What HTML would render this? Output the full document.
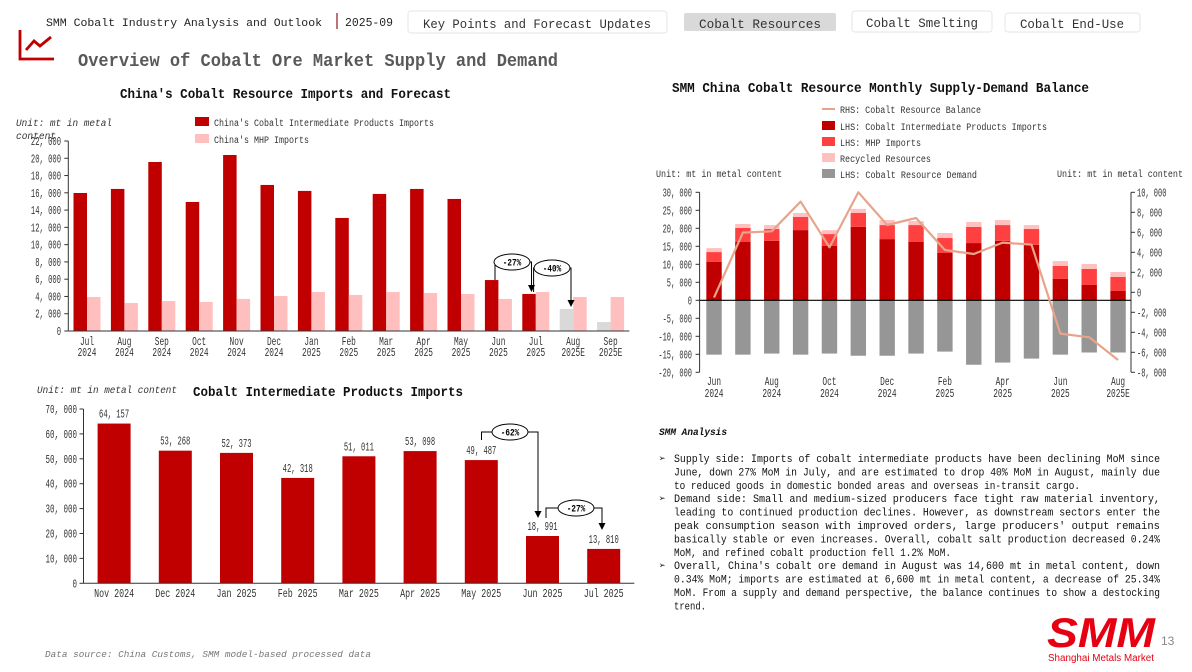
<!DOCTYPE html>
<html><head><meta charset="utf-8">
<style>
html,body{margin:0;padding:0;background:#fff;}
svg{display:block;font-family:"Liberation Mono","Noto Sans CJK SC",monospace;}
</style></head>
<body>
<svg id="s" width="1192" height="672" viewBox="0 0 1192 672" xmlns="http://www.w3.org/2000/svg">
<text x="46" y="26" font-size="11" fill="#222" textLength="276" lengthAdjust="spacingAndGlyphs">SMM Cobalt Industry Analysis and Outlook</text>
<line x1="337" y1="13" x2="337" y2="29" stroke="#8b1a1a" stroke-width="1.2"/>
<text x="345" y="26" font-size="12" fill="#222" textLength="48" lengthAdjust="spacingAndGlyphs">2025-09</text>
<g><rect x="408" y="11" width="259" height="22" rx="3" fill="#fff" stroke="#e6e6e6"/><text x="537" y="28" font-size="13" fill="#333" text-anchor="middle" textLength="228" lengthAdjust="spacingAndGlyphs">Key Points and Forecast Updates</text></g>
<g><rect x="684" y="13" width="152" height="18" rx="2" fill="#d9d9d9"/><text x="760" y="28" font-size="13" fill="#333" text-anchor="middle" textLength="122" lengthAdjust="spacingAndGlyphs">Cobalt Resources</text></g>
<g><rect x="852" y="11" width="140" height="21" rx="3" fill="#fff" stroke="#e6e6e6"/><text x="922" y="27" font-size="13" fill="#333" text-anchor="middle" textLength="112" lengthAdjust="spacingAndGlyphs">Cobalt Smelting</text></g>
<g><rect x="1005" y="13" width="135" height="19" rx="3" fill="#fff" stroke="#e6e6e6"/><text x="1072" y="28" font-size="13" fill="#333" text-anchor="middle" textLength="104" lengthAdjust="spacingAndGlyphs">Cobalt End-Use</text></g>
<g fill="none" stroke="#c00000" stroke-width="2.8">
<polyline points="20,30 20,59 54,59"/><polyline points="26,50 34,41 40,46 51,37"/></g>
<text x="78" y="66" font-size="18" font-weight="bold" fill="#595959" textLength="480" lengthAdjust="spacingAndGlyphs">Overview of Cobalt Ore Market Supply and Demand</text>

<text x="120" y="98" font-size="14" font-weight="bold" fill="#111" textLength="331" lengthAdjust="spacingAndGlyphs">China's Cobalt Resource Imports and Forecast</text>
<text x="16" y="126" font-size="10" font-style="italic" fill="#333" textLength="96" lengthAdjust="spacingAndGlyphs">Unit: mt in metal</text>
<text x="16" y="139" font-size="10" font-style="italic" fill="#333" textLength="40" lengthAdjust="spacingAndGlyphs">content</text>
<g><rect x="195" y="117" width="14" height="9" fill="#c00000"/><text x="214" y="126" font-size="10" fill="#333" textLength="220" lengthAdjust="spacingAndGlyphs">China's Cobalt Intermediate Products Imports</text></g>
<g><rect x="195" y="134" width="14" height="9" fill="#ffbfbf"/><text x="214" y="143" font-size="10" fill="#333" textLength="95" lengthAdjust="spacingAndGlyphs">China's MHP Imports</text></g>
<g id="c1"></g>

<text x="672" y="92" font-size="14" font-weight="bold" fill="#111" textLength="417" lengthAdjust="spacingAndGlyphs">SMM China Cobalt Resource Monthly Supply-Demand Balance</text>
<g><line x1="822" y1="109" x2="835" y2="109" stroke="#e8a48a" stroke-width="2"/><text x="840" y="113" font-size="10" fill="#333" textLength="141" lengthAdjust="spacingAndGlyphs">RHS: Cobalt Resource Balance</text></g>
<g><rect x="822" y="121" width="13" height="9" fill="#c00000"/><text x="840" y="130" font-size="10" fill="#333" textLength="207" lengthAdjust="spacingAndGlyphs">LHS: Cobalt Intermediate Products Imports</text></g>
<g><rect x="822" y="137" width="13" height="9" fill="#ff4040"/><text x="840" y="146" font-size="10" fill="#333" textLength="81" lengthAdjust="spacingAndGlyphs">LHS: MHP Imports</text></g>
<g><rect x="822" y="153" width="13" height="9" fill="#ffc0c0"/><text x="840" y="162" font-size="10" fill="#333" textLength="91" lengthAdjust="spacingAndGlyphs">Recycled Resources</text></g>
<g><rect x="822" y="169" width="13" height="9" fill="#969696"/><text x="840" y="178" font-size="10" fill="#333" textLength="137" lengthAdjust="spacingAndGlyphs">LHS: Cobalt Resource Demand</text></g>
<text x="656" y="177" font-size="10" fill="#333" textLength="126" lengthAdjust="spacingAndGlyphs">Unit: mt in metal content</text>
<text x="1057" y="177" font-size="10" fill="#333" textLength="126" lengthAdjust="spacingAndGlyphs">Unit: mt in metal content</text>
<g id="c2"></g>

<text x="37" y="393" font-size="10" font-style="italic" fill="#333" textLength="140" lengthAdjust="spacingAndGlyphs">Unit: mt in metal content</text>
<text x="193" y="396" font-size="14" font-weight="bold" fill="#111" textLength="270" lengthAdjust="spacingAndGlyphs">Cobalt Intermediate Products Imports</text>
<g id="c3"></g>

<text x="659" y="435" font-size="10" font-weight="bold" font-style="italic" fill="#111" textLength="68" lengthAdjust="spacingAndGlyphs">SMM Analysis</text>
<g id="analysis" font-size="10" fill="#111"></g>

<text x="45" y="657" font-size="9.5" font-style="italic" fill="#777" textLength="326" lengthAdjust="spacingAndGlyphs">Data source: China Customs, SMM model-based processed data</text>
<g>
<text x="1101" y="647" font-size="42" font-weight="bold" font-style="italic" fill="#e60012" text-anchor="middle" font-family="Liberation Sans, sans-serif" textLength="108" lengthAdjust="spacingAndGlyphs">SMM</text>
<text x="1101" y="661" font-size="10" fill="#e60012" text-anchor="middle" font-family="Liberation Sans, sans-serif" textLength="106" lengthAdjust="spacingAndGlyphs">Shanghai Metals Market</text>
</g>
<text x="1161" y="645" font-size="12" fill="#888" font-family="Liberation Sans, sans-serif">13</text>
</svg>
<script>
const NS="http://www.w3.org/2000/svg";
function el(parent,tag,attrs,txt){const e=document.createElementNS(NS,tag);for(const k in attrs)e.setAttribute(k,attrs[k]);if(txt!==undefined)e.textContent=txt;parent.appendChild(e);return e;}
function tl(e,k){e.setAttribute('textLength',(e.textContent.length*k).toFixed(1));e.setAttribute('lengthAdjust','spacingAndGlyphs');return e;}
const fmt=v=>v.toLocaleString('en-US').replace(/,/g,', ');

/* ---------- Chart 1 data ---------- */
const c1Months=["Jul","Aug","Sep","Oct","Nov","Dec","Jan","Feb","Mar","Apr","May","Jun","Jul","Aug","Sep"];
const c1Years=["2024","2024","2024","2024","2024","2024","2025","2025","2025","2025","2025","2025","2025","2025E","2025E"];
const c1Intermediate=[15980,16450,19570,14940,20380,16910,16220,13090,15870,16450,15290,5900,4290,2550,1040];
const c1Forecast=[false,false,false,false,false,false,false,false,false,false,false,false,false,true,true];
const c1MHP=[3940,3240,3470,3360,3710,4050,4520,4170,4520,4400,4290,3710,4520,3940,3940];
const c1Ticks=[0,2000,4000,6000,8000,10000,12000,14000,16000,18000,20000,22000];

/* ---------- Chart 2 data ---------- */
const c2Labels=["Jun|2024","","Aug|2024","","Oct|2024","","Dec|2024","","Feb|2025","","Apr|2025","","Jun|2025","","Aug|2025E"];
const c2Intermediate=[10650,16200,16500,19500,15100,20400,17000,16200,13150,15900,16500,15400,5930,4260,2590];
const c2MHP=[2750,3900,3300,3650,3300,3850,3900,4700,4150,4500,4400,4400,3610,4440,3890];
const c2Recycled=[1100,1100,1100,1100,1100,1150,1400,1100,1400,1350,1400,1100,1360,1400,1390];
const c2Demand=[-15100,-15100,-14800,-15100,-14800,-15400,-15400,-14800,-14250,-17900,-17300,-16200,-15100,-14500,-14500];
const c2Balance=[-530,5970,6100,9070,4500,10000,6730,7430,4230,3830,4970,4770,-4130,-4500,-6770];
const c2LeftTicks=[-20000,-15000,-10000,-5000,0,5000,10000,15000,20000,25000,30000];
const c2RightTicks=[-8000,-6000,-4000,-2000,0,2000,4000,6000,8000,10000];

/* ---------- Chart 3 data ---------- */
const c3Labels=["Nov 2024","Dec 2024","Jan 2025","Feb 2025","Mar 2025","Apr 2025","May 2025","Jun 2025","Jul 2025"];
const c3Values=[64157,53268,52373,42318,51011,53098,49487,18991,13810];
const c3Ticks=[0,10000,20000,30000,40000,50000,60000,70000];

function arrowDown(g,x,y){el(g,'polygon',{points:`${x-3.5},${y-7} ${x+3.5},${y-7} ${x},${y}`,fill:'#000'});}
function annot(g,x1,yStart,x2,yEnd,yTop,label,cx){
  el(g,'polyline',{points:`${x1},${yStart} ${x1},${yTop} ${x2},${yTop} ${x2},${yEnd-7}`,fill:'none',stroke:'#000','stroke-width':1});
  arrowDown(g,x2,yEnd);
  el(g,'ellipse',{cx:cx,cy:yTop,rx:18,ry:8,fill:'#fff',stroke:'#000','stroke-width':1});
  tl(el(g,'text',{x:cx,y:yTop+3.5,'font-size':10,'font-weight':'bold','text-anchor':'middle',fill:'#000'},label),4.6);
}

/* ---------- Chart 1 ---------- */
(function(){
  const g=document.getElementById('c1');
  const x0=68.3,band=37.4,y0=331,yTop=141,vmax=22000;
  const Y=v=>y0-(v/vmax)*(y0-yTop);
  const X=i=>x0+band*i+band/2;
  el(g,'line',{x1:x0,y1:yTop,x2:x0,y2:y0,stroke:'#333'});
  c1Ticks.forEach(t=>{
    el(g,'line',{x1:x0-4,y1:Y(t),x2:x0,y2:Y(t),stroke:'#333'});
    const t1=tl(el(g,'text',{x:61,y:Y(t)+4,'font-size':11.5,'text-anchor':'end',fill:'#333'},fmt(t)),4.3);
    
    
  });
  c1Intermediate.forEach((v,i)=>{
    const r=el(g,'rect',{x:X(i)-13.5,y:Y(v),width:13.5,height:y0-Y(v),fill:c1Forecast[i]?'#d9d9d9':'#c00000'});
    
    
    const p=el(g,'rect',{x:X(i),y:Y(c1MHP[i]),width:13.5,height:y0-Y(c1MHP[i]),fill:'#ffbfbf'});
    
    
    const l1=tl(el(g,'text',{x:X(i),y:345,'font-size':11.5,'text-anchor':'middle',fill:'#333'},c1Months[i]),4.7);
    
    
    tl(el(g,'text',{x:X(i),y:356,'font-size':11.5,'text-anchor':'middle',fill:'#333'},c1Years[i]),4.7);
  });
  el(g,'line',{x1:x0,y1:y0,x2:x0+band*15,y2:y0,stroke:'#333'});
  const a=el(g,'g',{});
  
  
  annot(a,495,Y(c1Intermediate[11]),531.5,Y(c1Intermediate[12])-2,262,'-27%',512);
  annot(a,533.6,Y(c1Intermediate[12])-2,571,Y(c1Intermediate[13])-2,268,'-40%',552);
})();

/* ---------- Chart 2 ---------- */
(function(){
  const g=document.getElementById('c2');
  const x0=699.6,band=28.86,xr=1131,yZ=300.3,pxL=3.6/1000,rZ=292.3,pxR=10/1000;
  const YL=v=>yZ-v*pxL, YR=v=>rZ-v*pxR, X=i=>x0+band*i+band/2;
  el(g,'line',{x1:x0,y1:YL(30000),x2:x0,y2:YL(-20000),stroke:'#333'});
  el(g,'line',{x1:xr,y1:YR(10000),x2:xr,y2:YR(-8000),stroke:'#333'});
  c2LeftTicks.forEach(t=>{
    el(g,'line',{x1:x0-4,y1:YL(t),x2:x0,y2:YL(t),stroke:'#333'});
    const t1=tl(el(g,'text',{x:692,y:YL(t)+4,'font-size':11.5,'text-anchor':'end',fill:'#333'},fmt(t)),4.2);
    
    
  });
  c2RightTicks.forEach(t=>{
    el(g,'line',{x1:xr,y1:YR(t),x2:xr+4,y2:YR(t),stroke:'#333'});
    const t1=tl(el(g,'text',{x:1137,y:YR(t)+4,'font-size':11.5,fill:'#333'},fmt(t)),4.2);
    
    
  });
  c2Intermediate.forEach((v,i)=>{
    const bx=X(i)-7.7,w=15.4;
    const a=v,b=a+c2MHP[i],c=b+c2Recycled[i];
    const r1=el(g,'rect',{x:bx,y:YL(a),width:w,height:YL(0)-YL(a),fill:'#c00000'});
    
    
    const r2=el(g,'rect',{x:bx,y:YL(b),width:w,height:YL(a)-YL(b),fill:'#ff4040'});
    
    
    const r3=el(g,'rect',{x:bx,y:YL(c),width:w,height:YL(b)-YL(c),fill:'#ffc0c0'});
    
    
    const r4=el(g,'rect',{x:bx,y:YL(0),width:w,height:YL(c2Demand[i])-YL(0),fill:'#969696'});
    
    
    if(c2Labels[i]){
      const [m,yr]=c2Labels[i].split('|');
      const l=tl(el(g,'text',{x:X(i),y:385,'font-size':11.5,'text-anchor':'middle',fill:'#333'},m),4.7);
      
      
      tl(el(g,'text',{x:X(i),y:397,'font-size':11.5,'text-anchor':'middle',fill:'#333'},yr),4.7);
    }
  });
  el(g,'line',{x1:x0,y1:yZ,x2:xr,y2:yZ,stroke:'#000','stroke-width':1.2});
  const pl=el(g,'polyline',{points:c2Balance.map((v,i)=>X(i)+','+YR(v)).join(' '),fill:'none',stroke:'#e8a48a','stroke-width':2.2,'stroke-linejoin':'round'});
  
  
})();

/* ---------- Chart 3 ---------- */
(function(){
  const g=document.getElementById('c3');
  const x0=83.5,band=61.2,y0=583.3,yTop=409,vmax=70000;
  const Y=v=>y0-(v/vmax)*(y0-yTop), X=i=>x0+band*i+band/2;
  el(g,'line',{x1:x0,y1:yTop,x2:x0,y2:y0,stroke:'#333'});
  c3Ticks.forEach(t=>{
    el(g,'line',{x1:x0-4,y1:Y(t),x2:x0,y2:Y(t),stroke:'#333'});
    const t1=tl(el(g,'text',{x:77,y:Y(t)+4,'font-size':11.5,'text-anchor':'end',fill:'#333'},fmt(t)),4.5);
    
    
  });
  c3Values.forEach((v,i)=>{
    const r=el(g,'rect',{x:X(i)-16.5,y:Y(v),width:33,height:y0-Y(v),fill:'#c00000'});
    
    
    const vl=tl(el(g,'text',{x:X(i),y:Y(v)-6,'font-size':11.5,'text-anchor':'middle',fill:'#333'},fmt(v)),4.3);
    
    
    const xl=tl(el(g,'text',{x:X(i),y:597,'font-size':11.5,'text-anchor':'middle',fill:'#333'},c3Labels[i]),5);
    
    
  });
  el(g,'line',{x1:x0,y1:y0,x2:x0+band*9,y2:y0,stroke:'#333'});
  const a=el(g,'g',{});
  
  
  annot(a,481.5,440,538,518,432,'-62%',510);
  annot(a,546,518,602,530,508,'-27%',576);
})();

/* ---------- Analysis ---------- */
(function(){
  const g=document.getElementById('analysis');
  const lines=[
   ["b","Supply side: Imports of cobalt intermediate products have been declining MoM since",486],
   ["","June, down 27% MoM in July, and are estimated to drop 40% MoM in August, mainly due",486],
   ["","to reduced goods in domestic bonded areas and overseas in-transit cargo.",406],
   ["b","Demand side: Small and medium-sized producers face tight raw material inventory,",486],
   ["","leading to continued production declines. However, as downstream sectors enter the",486],
   ["","peak consumption season with improved orders, large producers' output remains",486],
   ["","basically stable or even increases. Overall, cobalt salt production decreased 0.24%",486],
   ["","MoM, and refined cobalt production fell 1.2% MoM.",277],
   ["b","Overall, China's cobalt ore demand in August was 14,600 mt in metal content, down",486],
   ["","0.34% MoM; imports are estimated at 6,600 mt in metal content, a decrease of 25.34%",486],
   ["","MoM. From a supply and demand perspective, the balance continues to show a destocking",486],
   ["","trend.",32]];
  lines.forEach((l,i)=>{
    const y=462+i*13.4;
    if(l[0]) el(g,'text',{x:659,y:y,'font-size':11,fill:'#111'},'➢');
    el(g,'text',{x:674,y:y,'font-size':11,fill:'#111',textLength:l[2],lengthAdjust:'spacingAndGlyphs'},l[1]);
  });
})();
</script>
</body></html>
